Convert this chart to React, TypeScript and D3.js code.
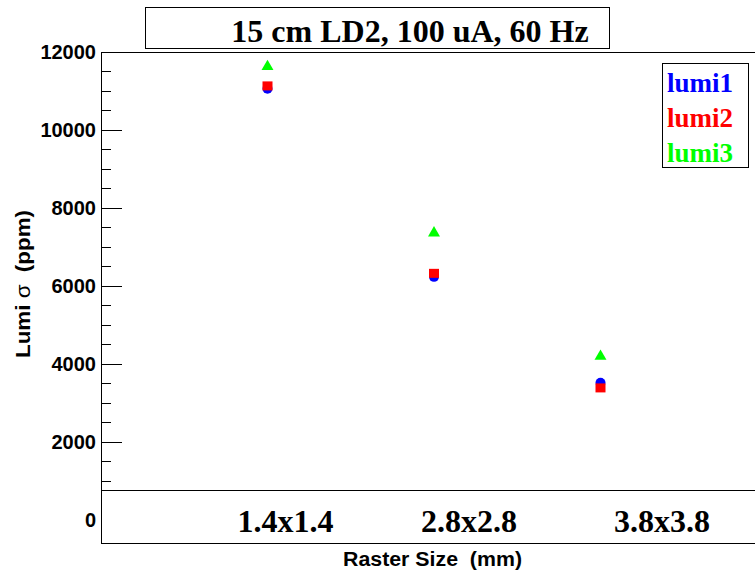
import React from "react";
import * as d3 from "d3";

// Raster sizes and their luminosity-monitor widths (ppm)
const rasterLabels = ["1.4x1.4", "2.8x2.8", "3.8x3.8"];
const rasterIndex = [1, 2, 3];
const lumi1 = [11060, 6230, 3510];
const lumi2 = [11130, 6320, 3380];
const lumi3 = [11650, 7380, 4215];
const yMajorTicks = [0, 2000, 4000, 6000, 8000, 10000, 12000];
const legendNames = ["lumi1", "lumi2", "lumi3"];
const legendColors = ["#0000ff", "#ff0000", "#00ff00"];

const W = 755;
const H = 573;
const SERIF = "'Liberation Serif', 'Times New Roman', serif";
const SANS = "'Liberation Sans', Arial, Helvetica, sans-serif";

export default function App() {
  const x = d3.scaleLinear().domain([0, 4]).range([101, 767]);
  const y = d3.scaleLinear().domain([-600, 12000]).range([543, 52]);

  const boxTop = 490.5;
  const minorTicks = d3.range(500, 12000, 500).filter((v) => v % 2000 !== 0 && y(v) < boxTop);
  const majorVisible = yMajorTicks.filter((v) => y(v) < boxTop);

  const triangle = d3.symbol().type(d3.symbolTriangle).size(62)();
  // label anchors in data units along the raster axis
  const labelPos = [1.108, 2.21, 3.37];

  return (
    <svg
      width={W}
      height={H}
      style={{ position: "absolute", left: 0, top: 0, display: "block", background: "#fff" }}
    >
      <rect x={0} y={0} width={W} height={H} fill="#fff" />

      {/* title box */}
      <rect x={145.5} y={7.5} width={464} height={41} fill="#fff" stroke="#000" strokeWidth={1} />
      <text x={410} y={41.5} textAnchor="middle" fontFamily={SERIF} fontWeight="bold" fontSize={32}>
        15 cm LD2, 100 uA, 60 Hz
      </text>

      {/* frame */}
      <line x1={101} x2={W} y1={52.5} y2={52.5} stroke="#000" />
      <line x1={101.5} x2={101.5} y1={52} y2={543} stroke="#000" />
      <line x1={101} x2={W} y1={543.5} y2={543.5} stroke="#000" />
      <line x1={101} x2={W} y1={boxTop} y2={boxTop} stroke="#000" />

      {/* y ticks */}
      {majorVisible.map((v) => (
        <line key={"M" + v} x1={101} x2={122} y1={Math.round(y(v)) + 0.5} y2={Math.round(y(v)) + 0.5} stroke="#000" />
      ))}
      {minorTicks.map((v) => (
        <line key={"m" + v} x1={101} x2={111} y1={Math.round(y(v)) + 0.5} y2={Math.round(y(v)) + 0.5} stroke="#000" />
      ))}
      {yMajorTicks.map((v) => (
        <text
          key={"t" + v}
          x={96}
          y={y(v) + 7}
          textAnchor="end"
          fontFamily={SANS}
          fontWeight="bold"
          fontSize={20}
        >
          {v}
        </text>
      ))}

      {/* y title */}
      <text
        transform={`translate(30,284) rotate(-90)`}
        textAnchor="middle"
        fontFamily={SANS}
        fontWeight="bold"
        fontSize={21}
        textLength={148}
        lengthAdjust="spacingAndGlyphs"
      >
        Lumi <tspan fontWeight="normal">σ</tspan>{"\u00a0 "}(ppm)
      </text>

      {/* raster size labels */}
      {rasterLabels.map((lab, i) => (
        <text
          key={lab}
          x={x(labelPos[i])}
          y={531.5}
          textAnchor="middle"
          fontFamily={SERIF}
          fontWeight="bold"
          fontSize={32}
        >
          {lab}
        </text>
      ))}

      {/* x title */}
      <text
        x={432.5}
        y={566}
        textAnchor="middle"
        fontFamily={SANS}
        fontWeight="bold"
        fontSize={19.5}
        textLength={179}
        lengthAdjust="spacingAndGlyphs"
      >
        {"Raster Size \u00a0(mm)"}
      </text>

      {/* markers */}
      {rasterIndex.map((r, i) => (
        <circle key={"c" + r} cx={x(r)} cy={y(lumi1[i])} r={5} fill={legendColors[0]} />
      ))}
      {rasterIndex.map((r, i) => (
        <rect key={"s" + r} x={x(r) - 5} y={y(lumi2[i]) - 4.5} width={10} height={9} fill={legendColors[1]} />
      ))}
      {rasterIndex.map((r, i) => (
        <path key={"g" + r} d={triangle || ""} transform={`translate(${x(r)},${y(lumi3[i]) + 1})`} fill={legendColors[2]} />
      ))}

      {/* legend */}
      <rect x={662.5} y={63.5} width={86} height={104} fill="#fff" stroke="#000" strokeWidth={1} />
      {legendNames.map((n, i) => (
        <text
          key={n}
          x={667}
          y={92 + i * 35}
          fontFamily={SERIF}
          fontWeight="bold"
          fontSize={27}
          fill={legendColors[i]}
        >
          {n}
        </text>
      ))}
    </svg>
  );
}
